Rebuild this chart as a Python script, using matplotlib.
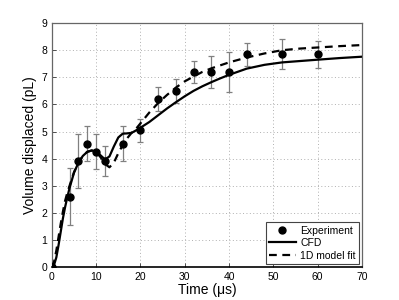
import numpy as np
import matplotlib.pyplot as plt

plt.rcParams['font.family'] = ['Liberation Sans', 'DejaVu Sans']

# experiment points
t_exp = [0, 4, 6, 8, 10, 12, 16, 20, 24, 28, 32, 36, 40, 44, 52, 60]
v_exp = [0, 2.6, 3.9, 4.55, 4.25, 3.9, 4.55, 5.05, 6.2, 6.5, 7.2, 7.2, 7.2, 7.85, 7.85, 7.85]
v_err = [0, 1.05, 1.0, 0.65, 0.65, 0.55, 0.65, 0.42, 0.45, 0.45, 0.4, 0.6, 0.75, 0.42, 0.55, 0.5]

# CFD curve
t_cfd = [0, 0.5, 1, 1.5, 2, 2.5, 3, 3.5, 4, 5, 6, 7, 8, 9, 10, 11, 12, 13, 14, 15,
         16, 17, 18, 19, 20, 22, 24, 26, 28, 30, 32, 34, 36, 38, 40, 44, 48, 52,
         56, 60, 65, 70]
v_cfd = [0, 0.08, 0.35, 0.8, 1.3, 1.8, 2.22, 2.58, 2.92, 3.48, 3.85, 4.1, 4.25,
         4.3, 4.26, 4.12, 3.97, 4.08, 4.45, 4.78, 4.92, 4.93, 4.95, 5.04, 5.14,
         5.35, 5.6, 5.85, 6.08, 6.3, 6.5, 6.67, 6.82, 6.96, 7.09, 7.32, 7.46,
         7.55, 7.6, 7.65, 7.71, 7.76]

# 1D model fit
t_fit = [0, 0.5, 1, 1.5, 2, 2.5, 3, 3.5, 4, 5, 6, 7, 8, 9, 10, 11, 12, 13, 14, 15,
         16, 17, 18, 19, 20, 22, 24, 26, 28, 30, 32, 34, 36, 40, 44, 48, 52, 56,
         60, 65, 70]
v_fit = [0, 0.2, 0.6, 1.1, 1.6, 2.05, 2.45, 2.75, 3.0, 3.5, 3.85, 4.1, 4.25, 4.3,
         4.25, 4.05, 3.8, 3.68, 3.85, 4.2, 4.5, 4.75, 4.95, 5.1, 5.3, 5.7, 6.05,
         6.35, 6.62, 6.85, 7.03, 7.2, 7.33, 7.55, 7.73, 7.88, 8.0, 8.06, 8.1,
         8.15, 8.19]

fig = plt.figure(figsize=(3.99, 3.0), dpi=100)
ax = fig.add_axes([0.130, 0.110, 0.777, 0.813])

ax.errorbar(t_exp, v_exp, yerr=v_err, fmt='none', ecolor='#808080',
            elinewidth=0.9, capsize=2.5, capthick=0.9, zorder=2)
ax.plot(t_exp, v_exp, 'o', color='black', markersize=5, label='Experiment', zorder=4)
ax.plot(t_cfd, v_cfd, '-', color='black', lw=1.6, label='CFD', zorder=3)
ax.plot(t_fit, v_fit, '--', color='black', lw=1.6, dashes=(3.5, 2.5),
        label='1D model fit', zorder=3)

ax.set_xlim(0, 70)
ax.set_ylim(0, 9)
ax.set_xticks(range(0, 71, 10))
ax.set_yticks(range(0, 10))
ax.tick_params(direction='in', labelsize=7.5, length=3, width=0.6, colors='#333333')
ax.tick_params(labelcolor='black')
ax.grid(True, color='#b0b0b0', linestyle=(0, (1, 2.5)), linewidth=0.7)
for side in ['top', 'right', 'left']:
    ax.spines[side].set_color('#666666')
    ax.spines[side].set_linewidth(0.9)
ax.spines['bottom'].set_color('black')
ax.spines['bottom'].set_linewidth(1.2)

ax.set_xlabel('Time (\u03bcs)', fontsize=10, labelpad=1)
ax.set_ylabel('Volume displaced (pL)', fontsize=10, labelpad=3)

leg = ax.legend(loc='lower right', fontsize=7.5, fancybox=False, framealpha=1,
                edgecolor='#444444', handlelength=2.6, borderpad=0.3,
                labelspacing=0.25, handletextpad=0.4, borderaxespad=0.3)
leg.get_frame().set_linewidth(0.8)

fig.savefig('out.png', dpi=100)
